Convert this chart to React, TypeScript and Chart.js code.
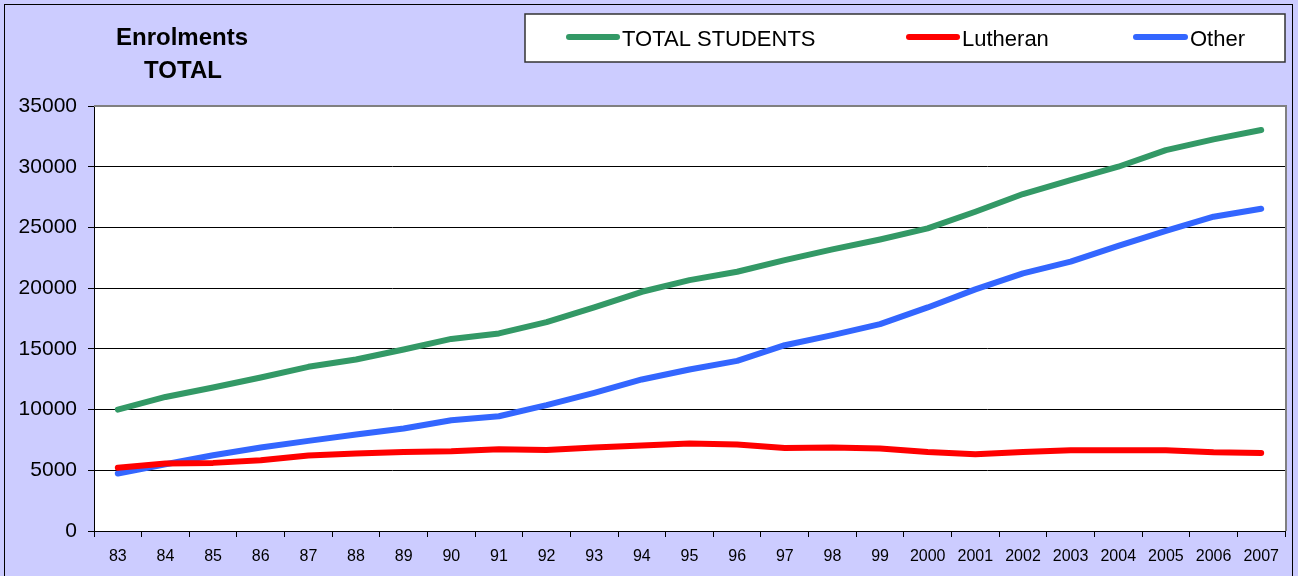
import React, { useEffect, useRef } from "react";
import { Chart, registerables } from "chart.js";

Chart.register(...registerables);

const categories = ["83","84","85","86","87","88","89","90","91","92","93","94","95","96","97","98","99","2000","2001","2002","2003","2004","2005","2006","2007"];
const totalStudents = [10000,11040,11820,12640,13520,14120,14950,15820,16270,17200,18410,19700,20660,21350,22310,23190,24010,24920,26290,27750,28900,30000,31370,32250,33020];
const lutheran = [5200,5550,5610,5830,6210,6380,6510,6570,6730,6680,6870,7040,7200,7120,6840,6870,6790,6510,6320,6510,6650,6650,6650,6490,6430];
const other = [4730,5500,6240,6870,7420,7940,8440,9120,9450,10360,11380,12480,13300,14010,15300,16130,17040,18410,19900,21220,22180,23480,24720,25880,26540];
const titleLines = ["Enrolments", "TOTAL"];
const legendLabels = ["TOTAL STUDENTS", "Lutheran", "Other"];
const colors = ["#339966", "#FF0000", "#3366FF"];

const FONT = '"Liberation Sans", Arial, sans-serif';

const decorPlugin = {
  id: "decor",
  beforeDraw(chart: any) {
    const { ctx, chartArea: a } = chart;
    ctx.save();
    ctx.fillStyle = "#CCCCFF";
    ctx.fillRect(0, 0, chart.width, chart.height);
    ctx.strokeStyle = "#000";
    ctx.lineWidth = 1;
    ctx.strokeRect(4.5, 4.5, 1288, 600);
    ctx.fillStyle = "#FFFFFF";
    ctx.fillRect(a.left, a.top, a.right - a.left, a.bottom - a.top);
    ctx.restore();
  },
  beforeDatasetsDraw(chart: any) {
    const { ctx, chartArea: a } = chart;
    ctx.save();
    ctx.strokeStyle = "#808080";
    ctx.lineWidth = 2;
    ctx.beginPath();
    ctx.moveTo(a.left, a.top);
    ctx.lineTo(a.right + 1, a.top);
    ctx.lineTo(a.right + 1, a.bottom);
    ctx.stroke();
    ctx.restore();
  },
  afterDraw(chart: any) {
    const { ctx } = chart;
    ctx.save();
    ctx.fillStyle = "#000";
    ctx.font = `bold 24px ${FONT}`;
    ctx.textAlign = "center";
    ctx.textBaseline = "alphabetic";
    ctx.fillText(titleLines[0], 182, 45);
    ctx.fillText(titleLines[1], 183, 78);
    ctx.fillStyle = "#FFFFFF";
    ctx.fillRect(525, 14, 760, 48);
    ctx.strokeStyle = "#333";
    ctx.lineWidth = 1.5;
    ctx.strokeRect(525, 14, 760, 48);
    const items = [
      { x1: 569, x2: 617, tx: 622 },
      { x1: 909, x2: 957, tx: 962 },
      { x1: 1136, x2: 1185, tx: 1190 },
    ];
    items.forEach((it, i) => {
      ctx.strokeStyle = colors[i];
      ctx.lineWidth = 6;
      ctx.lineCap = "round";
      ctx.beginPath();
      ctx.moveTo(it.x1, 37);
      ctx.lineTo(it.x2, 37);
      ctx.stroke();
      ctx.fillStyle = "#000";
      ctx.font = `22px ${FONT}`;
      ctx.textAlign = "left";
      ctx.fillText(legendLabels[i], it.tx, 46);
    });
    ctx.restore();
  },
};

export default function App() {
  const ref = useRef<HTMLCanvasElement | null>(null);
  useEffect(() => {
    if (!ref.current) return;
    const series = [totalStudents, lutheran, other];
    const chart = new Chart(ref.current, {
      type: "line",
      data: {
        labels: categories,
        datasets: series.map((d, i) => ({
          label: legendLabels[i],
          data: d,
          borderColor: colors[i],
          backgroundColor: colors[i],
          borderWidth: 6,
          pointRadius: 0,
          tension: 0,
          borderCapStyle: "round" as const,
          borderJoinStyle: "round" as const,
          fill: false,
        })),
      },
      options: {
        responsive: false,
        animation: false,
        layout: { padding: { left: 0, right: 13, top: 106, bottom: 0 } },
        plugins: {
          legend: { display: false },
          title: { display: false },
          tooltip: { enabled: false },
        },
        scales: {
          x: {
            offset: true,
            afterFit(scale: any) {
              scale.height = 45;
            },
            grid: {
              offset: true,
              drawOnChartArea: false,
              drawTicks: true,
              tickLength: 6,
              color: "#000",
            },
            border: { display: true, color: "#000", width: 1 },
            ticks: {
              color: "#000",
              font: { family: FONT, size: 16 },
              padding: 10,
              maxRotation: 0,
              autoSkip: false,
            },
          },
          y: {
            min: 0,
            max: 35000,
            afterFit(scale: any) {
              scale.width = 94;
            },
            grid: {
              color: "#000",
              lineWidth: 1,
              tickLength: 6,
            },
            border: { display: true, color: "#000", width: 1 },
            ticks: {
              stepSize: 5000,
              color: "#000",
              font: { family: FONT, size: 21 },
              padding: 11,
              callback: (v: any) => String(v),
            },
          },
        },
      },
      plugins: [decorPlugin],
    });
    return () => chart.destroy();
  }, []);
  return (
    <div style={{ position: "fixed", left: 0, top: 0, width: 1298, height: 576 }}>
      <canvas ref={ref} width={1298} height={576} style={{ display: "block" }} />
    </div>
  );
}
